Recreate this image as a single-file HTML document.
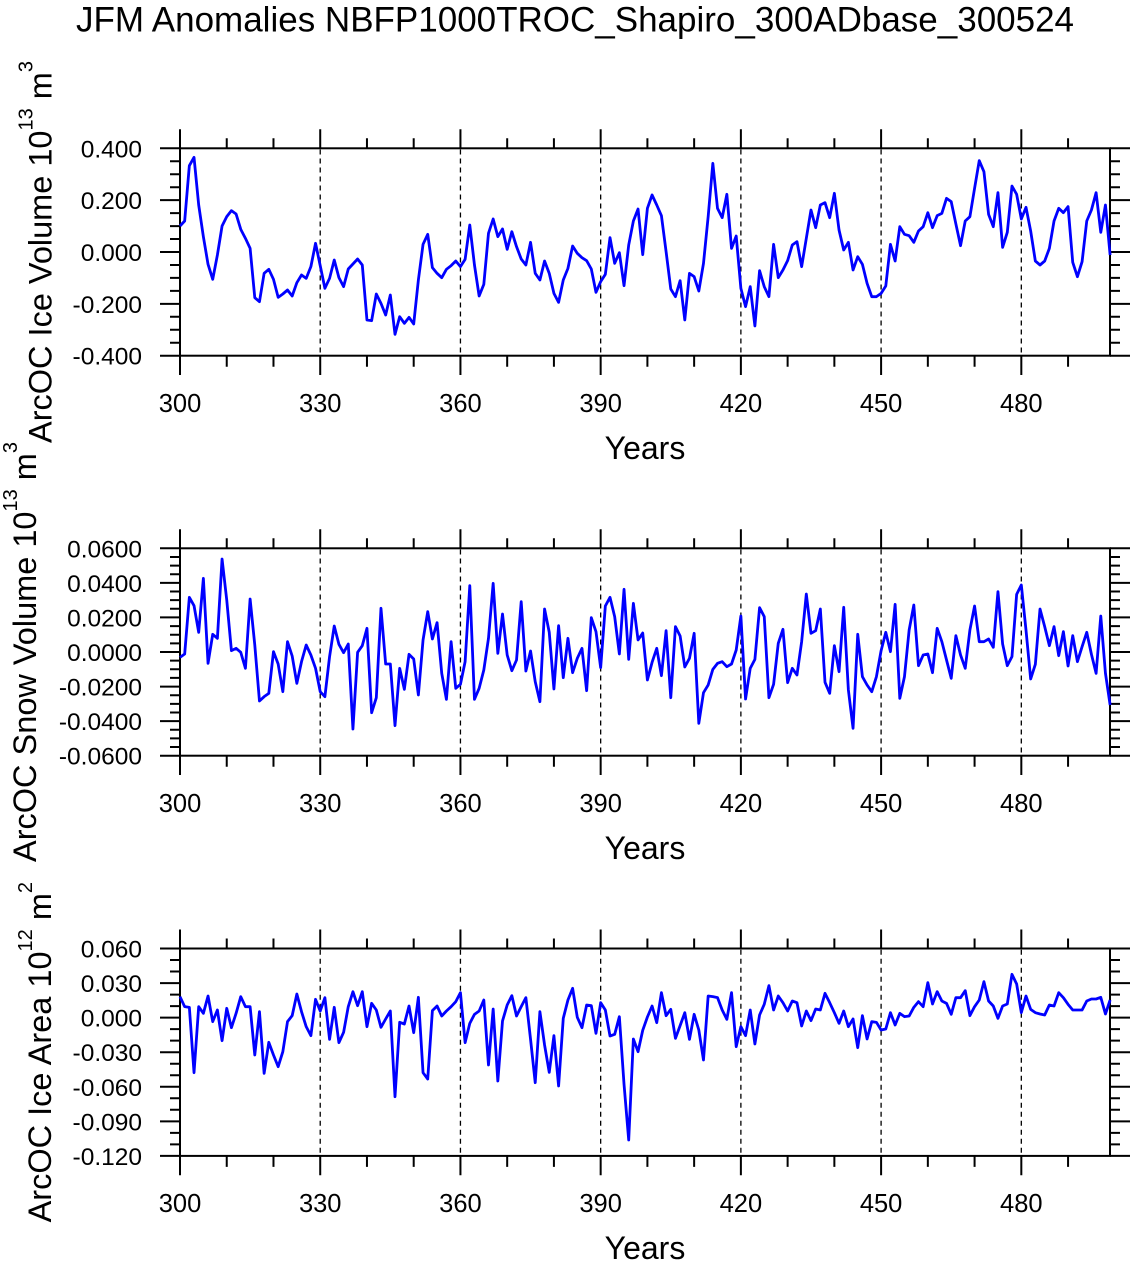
<!DOCTYPE html>
<html>
<head>
<meta charset="utf-8">
<style>
html,body{margin:0;padding:0;background:#fff;}
svg{display:block;}
text{font-family:"Liberation Sans",Arial,Helvetica,sans-serif;fill:#000;}
.yl{font-size:24.5px;text-anchor:end;}
.xl{font-size:25.5px;text-anchor:middle;}
.yr{font-size:32px;text-anchor:middle;}
.ax{font-size:32.5px;}
.tk{stroke:#000;stroke-width:2;fill:none;}
.dash{stroke:#000;stroke-width:1.3;stroke-dasharray:5 4;fill:none;}
.ln{stroke:#0000ff;stroke-width:2.8;fill:none;stroke-linejoin:round;}
</style>
</head>
<body>
<svg width="1136" height="1266" viewBox="0 0 1136 1266" xmlns="http://www.w3.org/2000/svg">
<rect x="0" y="0" width="1136" height="1266" fill="#fff"/>
<text x="575" y="31.5" style="font-size:35px;text-anchor:middle;">JFM Anomalies NBFP1000TROC_Shapiro_300ADbase_300524</text>

<defs>
<g id="xticks">
<path class="tk" d="M180 129.3V148.3M320.22 129.3V148.3M460.44 129.3V148.3M600.66 129.3V148.3M740.88 129.3V148.3M881.1 129.3V148.3M1021.32 129.3V148.3
M180 355.7V375M320.22 355.7V375M460.44 355.7V375M600.66 355.7V375M740.88 355.7V375M881.1 355.7V375M1021.32 355.7V375"/>
<path class="tk" d="M226.74 138.3V148.3M273.48 138.3V148.3M366.96 138.3V148.3M413.7 138.3V148.3M507.18 138.3V148.3M553.92 138.3V148.3M647.4 138.3V148.3M694.14 138.3V148.3M787.62 138.3V148.3M834.36 138.3V148.3M927.84 138.3V148.3M974.58 138.3V148.3M1068.06 138.3V148.3
M226.74 355.7V366.7M273.48 355.7V366.7M366.96 355.7V366.7M413.7 355.7V366.7M507.18 355.7V366.7M553.92 355.7V366.7M647.4 355.7V366.7M694.14 355.7V366.7M787.62 355.7V366.7M834.36 355.7V366.7M927.84 355.7V366.7M974.58 355.7V366.7M1068.06 355.7V366.7"/>
<path class="dash" d="M320.22 149.5V354.5M460.44 149.5V354.5M600.66 149.5V354.5M740.88 149.5V354.5M881.1 149.5V354.5M1021.32 149.5V354.5"/>
<rect x="180" y="148.3" width="930" height="207.4" fill="none" stroke="#000" stroke-width="2"/>
<text class="xl" x="180" y="412">300</text>
<text class="xl" x="320.22" y="412">330</text>
<text class="xl" x="460.44" y="412">360</text>
<text class="xl" x="600.66" y="412">390</text>
<text class="xl" x="740.88" y="412">420</text>
<text class="xl" x="881.1" y="412">450</text>
<text class="xl" x="1021.32" y="412">480</text>
<text class="yr" x="645" y="459">Years</text>
</g>
</defs>

<!-- Panel 1 -->
<g>
<use href="#xticks"/>
<path class="tk" d="M160 148.3H180M160 200.15H180M160 252H180M160 303.85H180M160 355.7H180
M1110 148.3H1130M1110 200.15H1130M1110 252H1130M1110 303.85H1130M1110 355.7H1130"/>
<path class="tk" d="M170 161.26H180M170 174.23H180M170 187.19H180M170 213.11H180M170 226.08H180M170 239.04H180M170 264.96H180M170 277.93H180M170 290.89H180M170 316.81H180M170 329.78H180M170 342.74H180
M1110 161.26H1120M1110 174.23H1120M1110 187.19H1120M1110 213.11H1120M1110 226.08H1120M1110 239.04H1120M1110 264.96H1120M1110 277.93H1120M1110 290.89H1120M1110 316.81H1120M1110 329.78H1120M1110 342.74H1120"/>
<text class="yl" x="142" y="157.3">0.400</text>
<text class="yl" x="142" y="209.15">0.200</text>
<text class="yl" x="142" y="261">0.000</text>
<text class="yl" x="142" y="312.85">-0.200</text>
<text class="yl" x="142" y="364.7">-0.400</text>
<text class="ax" transform="translate(51.5,252) rotate(-90)" text-anchor="middle">ArcOC Ice Volume 10<tspan dy="-19" style="font-size:20px">13</tspan><tspan dy="19"> m</tspan><tspan dy="-19" style="font-size:20px">3</tspan></text>
<polyline class="ln" vector-effect="non-scaling-stroke" transform="translate(180,145) scale(4.674,0.333333)" points="0,243 1,228 2,62 3,37 4,180 5,275 6,358 7,403 8,330 9,243 10,215 11,197 12,207 13,253 14,280 15,310 16,458 17,470 18,385 19,373 20,403 21,457 22,447 23,435 24,453 25,413 26,390 27,400 28,365 29,295 30,362 31,430 32,400 33,345 34,398 35,425 36,372 37,357 38,342 39,360 40,525 41,527 42,447 43,475 44,510 45,450 46,568 47,515 48,535 49,517 50,537 51,405 52,298 53,268 54,368 55,385 56,398 57,373 58,362 59,348 60,365 61,343 62,240 63,360 64,453 65,418 66,265 67,222 68,275 69,252 70,313 71,260 72,305 73,342 74,360 75,292 76,385 77,405 78,348 79,385 80,445 81,472 82,405 83,370 84,303 85,325 86,338 87,347 88,372 89,442 90,410 91,388 92,278 93,355 94,323 95,422 96,300 97,228 98,192 99,329 100,190 101,150 102,180 103,212 104,320 105,432 106,455 107,407 108,525 109,385 110,395 111,438 112,355 113,215 114,55 115,190 116,218 117,148 118,310 119,273 120,430 121,485 122,425 123,543 124,377 125,425 126,455 127,298 128,398 129,375 130,347 131,300 132,290 133,365 134,280 135,195 136,248 137,180 138,173 139,218 140,145 141,255 142,315 143,292 144,375 145,335 146,358 147,415 148,455 149,455 150,445 151,423 152,298 153,348 154,245 155,268 156,272 157,292 158,258 159,245 160,203 161,248 162,212 163,205 164,160 165,170 166,237 167,302 168,228 169,215 170,130 171,47 172,80 173,208 174,245 175,143 176,307 177,262 178,123 179,148 180,222 181,187 182,258 183,348 184,360 185,348 186,310 187,228 188,190 189,203 190,185 191,352 192,395 193,350 194,228 195,195 196,143 197,262 198,180 199,330"/>
</g>

<!-- Panel 2 -->
<g transform="translate(0,400)">
<use href="#xticks"/>
<path class="tk" d="M160 148.3H180M160 182.87H180M160 217.43H180M160 252H180M160 286.57H180M160 321.13H180M160 355.7H180
M1110 148.3H1130M1110 182.87H1130M1110 217.43H1130M1110 252H1130M1110 286.57H1130M1110 321.13H1130M1110 355.7H1130"/>
<path class="tk" d="M170 156.94H180M170 165.58H180M170 174.23H180M170 191.51H180M170 200.15H180M170 208.79H180M170 226.08H180M170 234.72H180M170 243.36H180M170 260.64H180M170 269.28H180M170 277.93H180M170 295.21H180M170 303.85H180M170 312.49H180M170 329.78H180M170 338.42H180M170 347.06H180
M1110 156.94H1120M1110 165.58H1120M1110 174.23H1120M1110 191.51H1120M1110 200.15H1120M1110 208.79H1120M1110 226.08H1120M1110 234.72H1120M1110 243.36H1120M1110 260.64H1120M1110 269.28H1120M1110 277.93H1120M1110 295.21H1120M1110 303.85H1120M1110 312.49H1120M1110 329.78H1120M1110 338.42H1120M1110 347.06H1120"/>
<text class="yl" x="142" y="157.3">0.0600</text>
<text class="yl" x="142" y="191.87">0.0400</text>
<text class="yl" x="142" y="226.43">0.0200</text>
<text class="yl" x="142" y="261">0.0000</text>
<text class="yl" x="142" y="295.57">-0.0200</text>
<text class="yl" x="142" y="330.13">-0.0400</text>
<text class="yl" x="142" y="364.7">-0.0600</text>
<text class="ax" transform="translate(36,252) rotate(-90)" text-anchor="middle">ArcOC Snow Volume 10<tspan dy="-19" style="font-size:20px">13</tspan><tspan dy="19"> m</tspan><tspan dy="-19" style="font-size:20px">3</tspan></text>
<polyline class="ln" vector-effect="non-scaling-stroke" transform="translate(180,145) scale(4.674,0.333333)" points="0,337 1,327 2,157 3,182 4,262 5,100 6,355 7,268 8,280 9,42 10,165 11,317 12,310 13,322 14,370 15,162 16,300 17,468 18,455 19,445 20,320 21,357 22,440 23,290 24,333 25,415 26,350 27,300 28,330 29,370 30,440 31,455 32,335 33,243 34,298 35,323 36,297 37,552 38,322 39,302 40,250 41,503 42,458 43,190 44,357 45,357 46,542 47,370 48,433 49,328 50,342 51,450 52,285 53,200 54,282 55,233 56,385 57,463 58,290 59,430 60,418 61,350 62,122 63,463 64,430 65,375 66,280 67,115 68,325 69,207 70,330 71,377 72,345 73,170 74,378 75,318 76,410 77,470 78,192 79,262 80,432 81,242 82,398 83,280 84,383 85,340 86,310 87,437 88,218 89,260 90,368 91,183 92,157 93,215 94,327 95,133 96,343 97,175 98,285 99,264 100,405 101,352 102,310 103,392 104,257 105,458 106,245 107,273 108,366 109,340 110,265 111,535 112,443 113,420 114,373 115,355 116,350 117,365 118,357 119,315 120,213 121,462 122,370 123,343 124,188 125,215 126,458 127,418 128,295 129,253 130,413 131,370 132,390 133,290 134,147 135,265 136,257 137,192 138,412 139,445 140,302 141,380 142,187 143,435 144,550 145,268 146,395 147,420 148,440 149,395 150,317 151,262 152,320 153,178 154,460 155,395 156,255 157,180 158,362 159,330 160,327 161,383 162,250 163,290 164,345 165,400 166,272 167,330 168,370 169,255 170,183 171,290 172,290 173,282 174,307 175,140 176,297 177,362 178,335 179,148 180,120 181,255 182,402 183,358 184,192 185,245 186,302 187,245 188,332 189,260 190,363 191,272 192,350 193,305 194,262 195,328 196,385 197,213 198,385 199,480"/>
</g>

<!-- Panel 3 -->
<g transform="translate(0,800.2)">
<use href="#xticks"/>
<path class="tk" d="M160 148.3H180M160 182.87H180M160 217.43H180M160 252H180M160 286.57H180M160 321.13H180M160 355.7H180
M1110 148.3H1130M1110 182.87H1130M1110 217.43H1130M1110 252H1130M1110 286.57H1130M1110 321.13H1130M1110 355.7H1130"/>
<path class="tk" d="M170 159.82H180M170 171.34H180M170 194.39H180M170 205.91H180M170 228.96H180M170 240.48H180M170 263.52H180M170 275.04H180M170 298.09H180M170 309.61H180M170 332.66H180M170 344.18H180
M1110 159.82H1120M1110 171.34H1120M1110 194.39H1120M1110 205.91H1120M1110 228.96H1120M1110 240.48H1120M1110 263.52H1120M1110 275.04H1120M1110 298.09H1120M1110 309.61H1120M1110 332.66H1120M1110 344.18H1120"/>
<text class="yl" x="142" y="157.3">0.060</text>
<text class="yl" x="142" y="191.87">0.030</text>
<text class="yl" x="142" y="226.43">0.000</text>
<text class="yl" x="142" y="261">-0.030</text>
<text class="yl" x="142" y="295.57">-0.060</text>
<text class="yl" x="142" y="330.13">-0.090</text>
<text class="yl" x="142" y="364.7">-0.120</text>
<text class="ax" transform="translate(51,252) rotate(-90)" text-anchor="middle">ArcOC Ice Area 10<tspan dy="-19" style="font-size:20px">12</tspan><tspan dy="19"> m</tspan><tspan dy="-19" style="font-size:20px">2</tspan></text>
<polyline class="ln" vector-effect="non-scaling-stroke" transform="translate(180,144.8) scale(4.674,0.333333)" points="0,155 1,185 2,187 3,383 4,185 5,205 6,153 7,230 8,195 9,287 10,190 11,248 12,205 13,155 14,185 15,185 16,330 17,200 18,385 19,292 20,330 21,365 22,320 23,230 24,212 25,147 26,200 27,245 28,272 29,163 30,198 31,158 32,283 33,187 34,293 35,262 36,185 37,140 38,182 39,140 40,245 41,175 42,195 43,247 44,222 45,198 46,455 47,232 48,237 49,183 50,263 51,157 52,383 53,402 54,197 55,183 56,213 57,198 58,185 59,170 60,143 61,293 62,235 63,208 64,198 65,165 66,360 67,192 68,408 69,228 70,180 71,152 72,213 73,185 74,158 75,283 76,413 77,200 78,300 79,382 80,272 81,423 82,220 83,165 84,130 85,217 86,248 87,180 88,182 89,265 90,173 91,195 92,273 93,268 94,215 95,418 96,585 97,282 98,320 99,256 100,216 101,183 102,233 103,143 104,212 105,193 106,280 107,242 108,203 109,283 110,208 111,255 112,345 113,153 114,155 115,158 116,195 117,223 118,143 119,305 120,245 121,272 122,195 123,297 124,210 125,178 126,122 127,195 128,153 129,173 130,198 131,168 132,173 133,243 134,198 135,227 136,192 137,195 138,145 139,173 140,203 141,235 142,198 143,245 144,222 145,308 146,212 147,282 148,230 149,232 150,255 151,252 152,203 153,240 154,205 155,215 156,213 157,187 158,170 159,185 160,113 161,177 162,140 163,168 164,175 165,208 166,158 167,158 168,137 169,212 170,185 171,165 172,110 173,168 174,183 175,220 176,183 177,177 178,88 179,117 180,203 181,153 182,193 183,203 184,207 185,210 186,180 187,183 188,143 189,158 190,178 191,195 192,195 193,195 194,168 195,162 196,162 197,157 198,207 199,165"/>
</g>
</svg>
</body>
</html>
